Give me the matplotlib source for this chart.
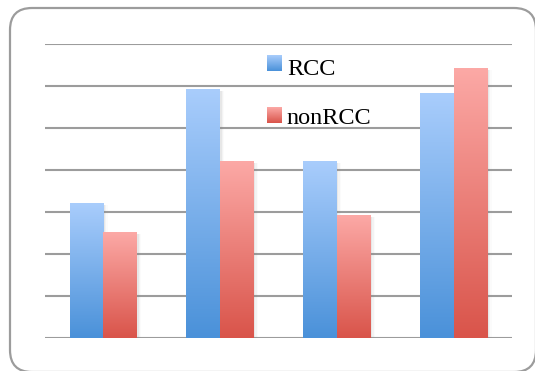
import numpy as np
import matplotlib
matplotlib.use('Agg')
import matplotlib.pyplot as plt
from matplotlib.patches import FancyBboxPatch, Rectangle
from matplotlib.colors import LinearSegmentedColormap

# Daten
groups = ['A', 'B', 'C', 'D']
rcc = [16, 29.5, 21, 29]
non_rcc = [12.5, 21, 14.5, 32]
series_names = ['RCC', 'nonRCC']

blue_cmap = LinearSegmentedColormap.from_list('blue', ['#4a91d9', '#a9cdfc'])
red_cmap = LinearSegmentedColormap.from_list('red', ['#d9544a', '#fca9a6'])
grad = np.linspace(0, 1, 256).reshape(-1, 1)

W, H = 535, 371
fig = plt.figure(figsize=(W / 100, H / 100), dpi=100)
ax = fig.add_axes([45 / W, 33 / H, 467 / W, 294.5 / H])

x = np.arange(len(groups))
width = 0.29
ax.set_xlim(-0.5, len(groups) - 0.5)
ax.set_ylim(0, 35)

# Gitterlinien
for y in range(0, 36, 5):
    ax.axhline(y, color='#9c9c9c', lw=1.5, zorder=1)

def gradient_bars(xpos, values, cmap):
    bars = ax.bar(xpos, values, width, color='none', zorder=3)
    for b in bars:
        x0, y0 = b.get_x(), b.get_y()
        w, h = b.get_width(), b.get_height()
        # weicher Schatten rechts
        for k, a in zip([0.012, 0.024, 0.036], [0.10, 0.06, 0.03]):
            ax.add_patch(Rectangle((x0 + k, y0), w, h - 0.15, color='#808080',
                                   alpha=a, lw=0, zorder=2))
        ax.imshow(grad, cmap=cmap, origin='lower', aspect='auto',
                  extent=[x0, x0 + w, y0, y0 + h], zorder=3)
    return bars

gradient_bars(x - width / 2, rcc, blue_cmap)
gradient_bars(x + width / 2, non_rcc, red_cmap)
ax.set_xlim(-0.5, len(groups) - 0.5)
ax.set_ylim(0, 35)

# Legende
ax.imshow(grad, cmap=blue_cmap, origin='lower', aspect='auto',
          extent=[0.475, 0.505, 0.907, 0.958], transform=ax.transAxes, zorder=4)
ax.imshow(grad, cmap=red_cmap, origin='lower', aspect='auto',
          extent=[0.475, 0.505, 0.730, 0.781], transform=ax.transAxes, zorder=4)
ax.text(0.518, 0.893, series_names[0], transform=ax.transAxes, va='baseline',
        family='Liberation Serif', fontsize=17.5, zorder=5)
ax.text(0.518, 0.728, series_names[1], transform=ax.transAxes, va='baseline',
        family='Liberation Serif', fontsize=17.5, zorder=5)

ax.set_xticks([])
ax.set_yticks([])
for s in ax.spines.values():
    s.set_visible(False)

# Rahmen mit runden Ecken (Figurkoordinaten, Radius ca. 22 px)
ext = fig.add_axes([0, 0, 1, 1], zorder=-1)
ext.set_xlim(0, W)
ext.set_ylim(H, 0)
ext.axis('off')
frame = FancyBboxPatch((10, 8), 526, 364, boxstyle='round,pad=0,rounding_size=22',
                       facecolor='none', edgecolor='#9c9c9c', lw=1.6)
ext.add_patch(frame)

fig.savefig('out.png', dpi=100)
